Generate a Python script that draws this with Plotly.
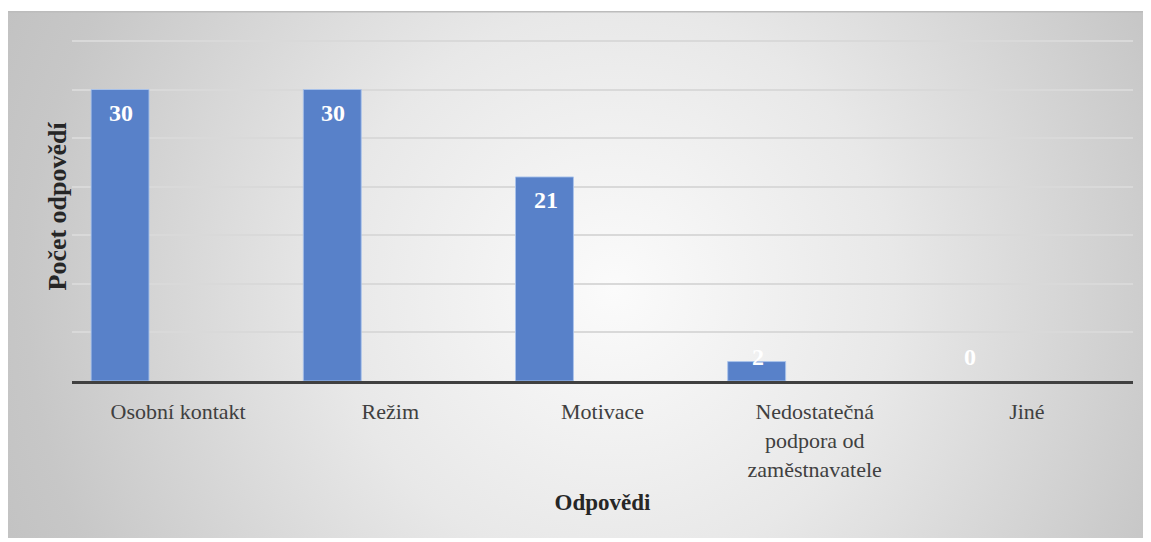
import base64
import plotly.graph_objects as go

categories = ["Osobní kontakt", "Režim", "Motivace",
              "Nedostatečná<br>podpora od<br>zaměstnavatele", "Jiné"]
values = [30, 30, 21, 2, 0]
y_max = 35
y_step = 5

FONT = "Liberation Serif, Times New Roman, serif"

# figure is drawn inside the page's 8px body margin
W, H = 1143, 534
L, R, T, B = 64, 18, 30, 161
pw, ph = W - L - R, H - T - B

# chart-area background: radial gradient as an SVG image
CW, CH = W, 527
svg = (
    f'<svg xmlns="http://www.w3.org/2000/svg" width="{CW}" height="{CH}" '
    f'viewBox="0 0 {CW} {CH}" preserveAspectRatio="none">'
    '<defs><radialGradient id="g" gradientUnits="userSpaceOnUse" cx="606" cy="278" r="700">'
    '<stop offset="0" stop-color="#fbfbfb"/>'
    '<stop offset="0.4" stop-color="#e8e8e8"/>'
    '<stop offset="0.84" stop-color="#c7c7c7"/>'
    '<stop offset="1" stop-color="#c0c0c0"/>'
    '</radialGradient></defs>'
    f'<rect x="0" y="0" width="{CW}" height="{CH}" fill="url(#g)"/>'
    f'<line x1="0" y1="0.5" x2="{CW}" y2="0.5" stroke="#bcbcbc" stroke-width="2"/>'
    '</svg>'
)
src = "data:image/svg+xml;base64," + base64.b64encode(svg.encode()).decode()

fig = go.Figure()
fig.add_trace(go.Bar(
    x=categories, y=values,
    width=0.273, offset=-0.41,
    marker=dict(color="#5881c9",
                line=dict(color="rgba(170,195,235,0.9)",
                          width=[1 if v > 0 else 0 for v in values])),
    hoverinfo="x+y",
))

for c, v in zip(categories, values):
    fig.add_annotation(
        x=c, y=max(v, 4.8), xref="x", yref="y",
        text=f"<b>{v}</b>", showarrow=False,
        yanchor="top", yshift=-8, xshift=-57,
        font=dict(family=FONT, size=24, color="white"),
    )

# y-axis title
fig.add_annotation(
    x=0, y=0.5, xref="paper", yref="paper",
    text="<b>Počet odpovědí</b>", textangle=-90, showarrow=False,
    xanchor="center", yanchor="middle", xshift=-15, yshift=3,
    font=dict(family=FONT, size=26, color="#262626"),
)

top_px = 3  # top of chart area in figure px
fig.add_layout_image(
    source=src, xref="paper", yref="paper",
    x=(0 - L) / pw, y=(H - B - top_px) / ph,
    sizex=CW / pw, sizey=CH / ph,
    xanchor="left", yanchor="top", sizing="stretch", layer="below",
)

fig.update_layout(
    width=W, height=H,
    margin=dict(l=L, r=R, t=T, b=B),
    paper_bgcolor="white", plot_bgcolor="rgba(0,0,0,0)",
    showlegend=False,
    font=dict(family=FONT, color="#404040"),
    xaxis=dict(
        showline=True, linecolor="#404040", linewidth=3,
        showgrid=False, ticks="", ticklabelstandoff=9,
        tickfont=dict(family=FONT, size=22, color="#404040"),
        title=dict(text="<b>Odpovědi</b>", font=dict(family=FONT, size=23, color="#262626"),
                   standoff=14),
        fixedrange=True,
    ),
    yaxis=dict(
        range=[0, y_max + 0.3], dtick=y_step, tick0=0,
        showgrid=True, gridcolor="#d9d9d9", gridwidth=2,
        zeroline=False, showticklabels=False, ticks="",
        fixedrange=True,
    ),
)

fig.write_html("out.html")
